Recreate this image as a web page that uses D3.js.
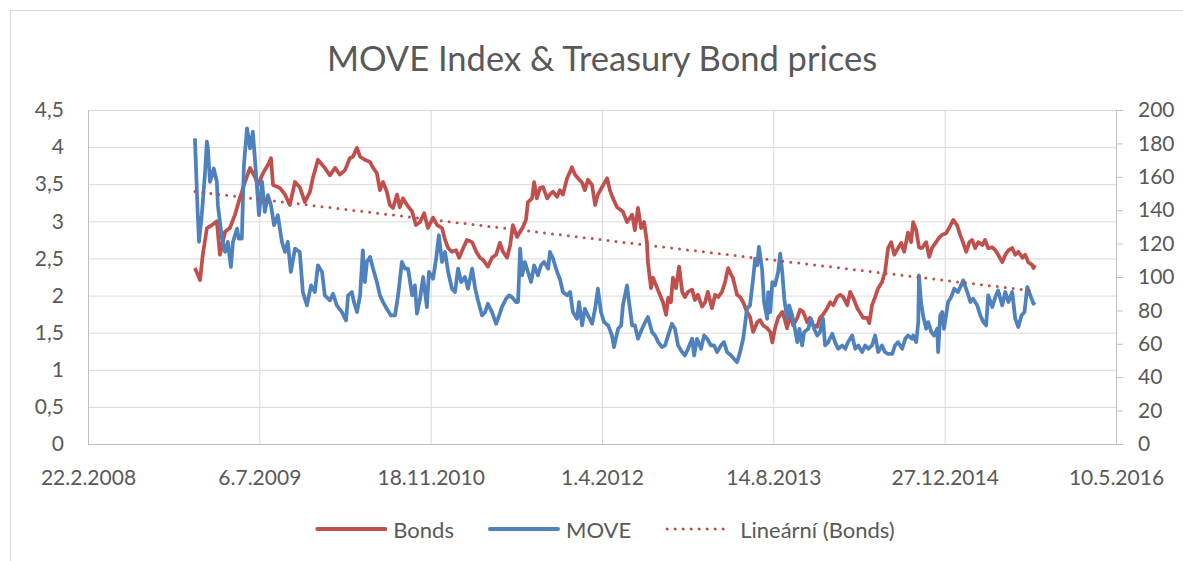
<!DOCTYPE html>
<html>
<head>
<meta charset="utf-8">
<script src="https://cdn.jsdelivr.net/npm/d3@7"></script>
<style>
	body { margin: 0; background: #fff; }
	svg text { font-family: Lato, "Open Sans", sans-serif; fill: #595959; }
	.grid line { stroke: #d9d9d9; stroke-width: 1; }
	.grid .domain { display: none; }
	.axis .domain, .axis line { stroke: #bfbfbf; stroke-width: 1; }
	.axis text { font-size: 21px; }
</style>
</head>
<body>
<div id="chart"></div>
<script>

// Dates are Excel serial numbers, like in the workbook the chart came from

var bondDates = [39812,39827,39835,39847,39862,39876,39885,39900,39914,39929,39943,39958,39973,39987,39996,40011,40025,40034,40040,40060,40075,40089,40104,40118,40133,40148,40156,40171,40191,40206,
	40221,40235,40250,40264,40273,40285,40294,40308,40323,40332,40343,40352,40361,40372,40381,40390,40402,40410,40419,40431,40446,40457,40469,40481,40492,40507,40519,40533,40542,40551,40562,40574,40583,40595,40606,40621,40633,40644,
	40653,40667,40679,40691,40702,40711,40723,40732,40740,40752,40761,40769,40778,40784,40796,40802,40810,40819,40828,40840,40848,40857,40869,40877,40886,40898,40907,40912,40921,40930,40942,40950,40959,40971,40980,40988,41000,41015,41023,41032,41044,41053,
	41061,41073,41088,41096,41105,41114,41123,41131,41134,41143,41149,41161,41169,41178,41187,41193,41201,41207,41216,41225,41234,41242,41251,41263,41271,41280,41292,41301,41309,41321,41330,41339,41350,41359,41368,41377,41382,41394,41403,41412,41423,41432,41441,41453,41461,41470,41482,41491,
	41497,41505,41514,41526,41532,41540,41549,41558,41570,41578,41587,41599,41607,41616,41628,41636,41645,41657,41666,41675,41686,41695,41704,41716,41724,41733,41745,41753,41762,41774,41780,41788,41797,41806,41817,41826,41835,41844,41853,41864,41873,41882,41893,41902,41908,
	41917,41925,41934,41946,41955,41963,41975,41984,41993,42004,42013,42025,42036,42045,42054,42063,42072,42080,42089,42098,42110,42118,42127,42139,42148,42156,42168,42177,42186,42197,42206,42215,42227,42235,42244,42256,42259,42264]

var bondValues = [2.37,2.21,2.55,2.91,2.95,3.0,2.55,2.86,2.91,3.09,3.31,3.53,3.72,3.6,3.49,3.65,3.76,3.85,3.49,3.45,3.36,3.22,3.53,3.46,3.26,3.4,3.58,3.83,3.72,3.62,
	3.72,3.63,3.69,3.85,3.87,3.99,3.87,3.83,3.8,3.72,3.65,3.42,3.53,3.4,3.22,3.18,3.36,3.19,3.31,3.22,3.13,2.95,2.99,3.11,2.91,3.05,2.95,2.91,2.75,2.64,2.59,2.61,2.51,2.64,2.75,2.72,2.59,2.51,
	2.48,2.39,2.51,2.55,2.71,2.59,2.51,2.68,2.95,2.79,2.86,2.92,3.02,3.26,3.31,3.53,3.31,3.45,3.46,3.31,3.36,3.4,3.33,3.42,3.36,3.58,3.67,3.73,3.63,3.58,3.52,3.42,3.56,3.49,3.22,3.36,3.46,3.58,3.42,3.31,3.19,3.16,
	3.13,2.99,3.09,2.88,3.18,2.91,2.99,2.72,2.45,2.1,2.24,2.1,2.01,1.91,1.74,1.97,1.91,2.24,2.1,2.39,2.05,1.98,2.05,2.08,1.94,2.01,1.85,1.91,2.05,1.83,2.01,1.98,2.05,2.18,2.37,2.28,2.24,2.01,1.98,1.91,1.78,1.71,1.51,1.64,1.67,1.6,1.56,1.51,
	1.37,1.56,1.7,1.78,1.7,1.56,1.74,1.6,1.7,1.81,1.78,1.64,1.7,1.6,1.58,1.7,1.74,1.83,1.91,1.87,1.98,2.01,1.98,1.87,2.05,1.97,1.83,1.77,1.7,1.7,1.63,1.87,1.98,2.1,2.18,2.32,2.64,2.72,2.55,2.64,2.71,2.59,2.85,2.72,2.99,
	2.88,2.65,2.64,2.72,2.52,2.64,2.72,2.78,2.82,2.84,2.91,3.02,2.95,2.82,2.71,2.59,2.72,2.75,2.64,2.72,2.68,2.75,2.64,2.65,2.61,2.55,2.45,2.55,2.61,2.64,2.55,2.59,2.51,2.55,2.45,2.41,2.37,2.41]

var moveDates = [39812,39820,39824,39832,39841,39847,39850,39856,39862,39867,39876,39879,39891,39900,39908,39917,39923,39935,39940,39949,39955,39964,39973,39981,39990,39999,40008,40016,40025,40034,40043,40054,40066,40075,40083,40092,40104,40118,40127,40139,40151,40162,40171,40183,40191,40206,
	40215,40226,40241,40253,40259,40270,40276,40285,40294,40302,40308,40314,40323,40332,40343,40352,40361,40372,40384,40396,40405,40416,40425,40434,40446,40454,40460,40469,40478,40489,40495,40507,40516,40524,40533,40542,40551,40562,40571,40580,40589,40600,40609,40621,40630,40638,
	40650,40659,40667,40679,40691,40700,40708,40720,40729,40737,40749,40755,40761,40767,40775,40784,40793,40802,40813,40822,40831,40843,40848,40857,40869,40877,40886,40898,40907,40915,40927,40933,40942,40950,40959,40971,40980,40988,40997,41006,41018,41029,41035,41047,41056,
	41061,41067,41073,41079,41088,41096,41105,41117,41126,41134,41146,41155,41164,41175,41184,41193,41204,41213,41222,41234,41242,41251,41263,41269,41277,41289,41298,41307,41318,41327,41336,41347,41356,41365,41377,41385,41394,41403,41412,41417,41423,41432,41441,41447,41453,41458,41467,41473,41482,
	41485,41491,41497,41505,41514,41520,41526,41532,41540,41546,41555,41561,41570,41576,41584,41590,41602,41610,41619,41628,41636,41645,41651,41660,41672,41680,41689,41701,41710,41718,41730,41739,41748,41759,41768,41777,41788,41797,41806,41817,41826,41835,41847,41855,41864,41876,41885,41893,41905,
	41908,41917,41923,41925,41931,41937,41946,41952,41961,41969,41978,41981,41987,41993,41998,42007,42010,42019,42028,42039,42048,42054,42066,42075,42083,42095,42104,42113,42121,42127,42139,42148,42156,42168,42177,42186,42197,42206,42215,42224,42233,42241,42250,42259,42264]

var moveValues = [183,139,121,137,161,181,177,157,161,165,157,143,123,115,121,106,121,129,123,123,167,189,177,187,163,137,157,139,149,143,131,137,121,115,121,103,117,115,91,83,95,91,107,103,89,86,
	90,83,79,74,89,91,85,79,89,116,97,109,112,105,97,89,85,81,77,77,89,109,105,105,89,95,78,87,100,82,103,99,111,125,109,115,103,93,91,105,97,100,93,105,93,86,
	77,79,84,79,72,77,82,87,89,88,85,85,117,101,109,103,97,107,101,107,109,105,115,111,103,99,91,89,91,79,75,85,71,81,77,72,81,93,79,73,71,65,58,69,71,
	83,89,95,85,71,71,63,69,73,76,67,65,61,58,59,65,72,69,59,55,53,57,63,53,63,57,65,63,59,59,55,59,61,55,53,51,49,55,63,71,81,83,99,111,107,118,105,85,75,
	91,79,97,95,103,114,103,87,75,83,77,71,61,69,59,67,69,75,69,65,67,75,59,61,66,61,57,59,57,61,65,57,59,55,59,57,59,65,55,59,55,54,54,59,61,57,63,65,63,
	65,61,73,101,85,77,69,73,67,65,69,55,77,79,69,81,85,88,93,91,95,98,91,85,87,83,77,73,71,89,82,88,92,83,91,85,91,75,70,77,79,94,89,84,85]

var dateTicks = [39500, 40000, 40500, 41000, 41500, 42000, 42500]

var bondTicks = [0, 0.5, 1, 1.5, 2, 2.5, 3, 3.5, 4, 4.5]

var moveTicks = [0, 20, 40, 60, 80, 100, 120, 140, 160, 180, 200]

var seriesNames = ["Bonds", "MOVE", "Lineární (Bonds)"]

var chartTitle = "MOVE Index & Treasury Bond prices"


var width = 1183
var height = 561
var plot = { left: 88, right: 1116, top: 110, bottom: 444 }
var red = "#c0504d"
var blue = "#4f81bd"

function excelDate(serial) {
	return new Date(Date.UTC(1899, 11, 30) + serial * 864e5)
}

var czech = d3.formatLocale({ decimal: ",", thousands: " ", grouping: [3], currency: ["", " Kč"] })
var formatBond = czech.format("~g")
var formatDate = d3.utcFormat("%-d.%-m.%Y")

var bonds = bondDates.map(function(d, i) { return { date: excelDate(d), value: bondValues[i] } })
var move = moveDates.map(function(d, i) { return { date: excelDate(d), value: moveValues[i] } })

var x = d3.scaleUtc()
	.domain([excelDate(dateTicks[0]), excelDate(dateTicks[dateTicks.length - 1])])
	.range([plot.left, plot.right])

var yBond = d3.scaleLinear()
	.domain([0, 4.5])
	.range([plot.bottom, plot.top])

var yMove = d3.scaleLinear()
	.domain([0, 200])
	.range([plot.bottom, plot.top])

var svg = d3.select("#chart")
	.append("svg")
	.attr("width", width)
	.attr("height", height)

// Chart frame, runs off the right and bottom edge like in the screenshot
svg.append("rect")
	.attr("x", 10.5)
	.attr("y", 10.5)
	.attr("width", 1300)
	.attr("height", 700)
	.attr("fill", "none")
	.attr("stroke", "#d9d9d9")

svg.append("text")
	.attr("x", (plot.left + plot.right) / 2)
	.attr("y", 57)
	.attr("text-anchor", "middle")
	.attr("dominant-baseline", "central")
	.style("font-size", "34.5px")
	.text(chartTitle)

// Gridlines

svg.append("g")
	.attr("class", "grid")
	.attr("transform", "translate(" + plot.left + ",0)")
	.call(d3.axisLeft(yBond).tickValues(bondTicks).tickSize(-(plot.right - plot.left)).tickFormat(""))

svg.append("g")
	.attr("class", "grid")
	.attr("transform", "translate(0," + plot.bottom + ")")
	.call(d3.axisBottom(x).tickValues(dateTicks.map(excelDate)).tickSize(-(plot.bottom - plot.top)).tickFormat(""))

// Axes

svg.append("g")
	.attr("class", "axis")
	.attr("transform", "translate(" + plot.left + ",0)")
	.call(d3.axisLeft(yBond).tickValues(bondTicks).tickSize(0).tickPadding(24).tickFormat(formatBond))

svg.append("g")
	.attr("class", "axis")
	.attr("transform", "translate(" + plot.right + ",0)")
	.call(d3.axisRight(yMove).tickValues(moveTicks).tickSizeInner(7).tickSizeOuter(0).tickPadding(15))

svg.append("g")
	.attr("class", "axis")
	.attr("transform", "translate(0," + plot.bottom + ")")
	.call(d3.axisBottom(x).tickValues(dateTicks.map(excelDate)).tickSize(0).tickPadding(26).tickFormat(formatDate))

svg.selectAll(".axis text").attr("font-family", null)

// Series

var bondLine = d3.line()
	.x(function(d) { return x(d.date) })
	.y(function(d) { return yBond(d.value) })

var moveLine = d3.line()
	.x(function(d) { return x(d.date) })
	.y(function(d) { return yMove(d.value) })

svg.append("path")
	.datum(bonds)
	.attr("d", bondLine)
	.attr("fill", "none")
	.attr("stroke", red)
	.attr("stroke-width", 3.75)
	.attr("stroke-linejoin", "round")

// Linear trend of the bonds (least squares over the date serials)
var meanX = d3.mean(bondDates)
var meanY = d3.mean(bondValues)
var slope = d3.sum(bondDates, function(d, i) { return (d - meanX) * (bondValues[i] - meanY) }) /
	d3.sum(bondDates, function(d) { return (d - meanX) * (d - meanX) })
var intercept = meanY - slope * meanX

var trend = [bondDates[0], bondDates[bondDates.length - 1]].map(function(d) {
	return { date: excelDate(d), value: intercept + slope * d }
})

svg.append("path")
	.datum(move)
	.attr("d", moveLine)
	.attr("fill", "none")
	.attr("stroke", blue)
	.attr("stroke-width", 3.75)
	.attr("stroke-linejoin", "round")

svg.append("path")
	.datum(trend)
	.attr("d", bondLine)
	.attr("fill", "none")
	.attr("stroke", red)
	.attr("stroke-width", 3)
	.attr("stroke-linecap", "round")
	.attr("stroke-dasharray", "0 8")

// Legend

var legend = svg.append("g")
var legendY = 529
var cursor = 0
var styles = [
	{ color: red, dash: null, width: 4, sample: 68, gap: 8 },
	{ color: blue, dash: null, width: 4, sample: 68, gap: 8 },
	{ color: red, dash: "0 8", width: 3, sample: 57, gap: 16 }
]

seriesNames.forEach(function(name, i) {

	var s = styles[i]

	var line = legend.append("line")
		.attr("x1", cursor)
		.attr("x2", cursor + s.sample)
		.attr("y1", legendY)
		.attr("y2", legendY)
		.attr("stroke", s.color)
		.attr("stroke-width", s.width)
		.attr("stroke-linecap", "round")

	if (s.dash) line.attr("stroke-dasharray", s.dash)

	var label = legend.append("text")
		.attr("x", cursor + s.sample + s.gap)
		.attr("y", legendY)
		.attr("dominant-baseline", "central")
		.style("font-size", "22px")
		.text(name)

	cursor += s.sample + s.gap + label.node().getComputedTextLength() + 36

})

cursor -= 36
legend.attr("transform", "translate(" + (606 - cursor / 2) + ",0)")

</script>
</body>
</html>
